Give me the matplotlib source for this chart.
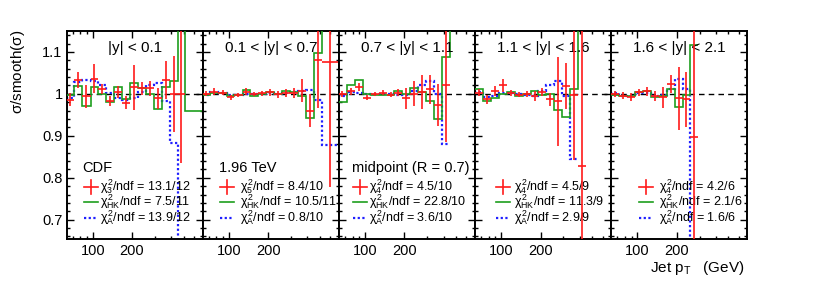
import numpy as np
import matplotlib
matplotlib.use('Agg')
import matplotlib.pyplot as plt
from matplotlib.ticker import FixedLocator, FuncFormatter, NullFormatter, MultipleLocator

plt.rcParams['font.family'] = ['Liberation Sans', 'DejaVu Sans']
plt.rcParams['mathtext.fontset'] = 'custom'
plt.rcParams['mathtext.rm'] = 'Liberation Sans'
plt.rcParams['mathtext.it'] = 'Liberation Sans'
plt.rcParams['mathtext.bf'] = 'Liberation Sans:bold'

# pT bin edges (GeV), same binning in every rapidity region
edges = np.array([62, 72, 83, 96, 110, 127, 146, 168, 193, 222, 255, 293, 338, 389, 447, 514, 700])

regions = ['|y| < 0.1', '0.1 < |y| < 0.7', '0.7 < |y| < 1.1', '1.1 < |y| < 1.6', '1.6 < |y| < 2.1']
extra_text = ['CDF', '1.96 TeV', 'midpoint (R = 0.7)', '', '']

# data / smooth(sigma), with errors
ratio_1 = [0.986, 1.033, 0.994, 1.036, 1.011, 0.983, 1.004, 0.979, 1.016, 1.013, 1.013, 0.989, 1.033, 1.000, 1.000]
err_1 = [0.015, 0.018, 0.028, 0.035, 0.012, 0.012, 0.015, 0.015, 0.054, 0.016, 0.018, 0.025, 0.045, 0.090, 0.165]
ratio_2 = [1.000, 1.005, 1.003, 0.992, 0.997, 1.005, 1.000, 1.002, 1.004, 0.999, 1.002, 1.003, 1.008, 0.960, 1.081, 1.077]
err_2 = [0.006, 0.008, 0.006, 0.006, 0.005, 0.008, 0.005, 0.006, 0.008, 0.008, 0.010, 0.012, 0.028, 0.040, 0.115, 0.300]
ratio_3 = [1.000, 1.006, 1.016, 0.991, 1.000, 1.003, 0.998, 1.003, 0.989, 1.000, 1.004, 1.011, 0.973, 1.021]
err_3 = [0.008, 0.008, 0.010, 0.006, 0.005, 0.006, 0.006, 0.008, 0.025, 0.030, 0.040, 0.035, 0.050, 0.135]
ratio_4 = [1.003, 0.987, 1.006, 1.020, 1.002, 0.998, 1.000, 0.994, 1.005, 0.987, 0.982, 1.019, 0.998, 0.829]
err_4 = [0.008, 0.010, 0.012, 0.015, 0.008, 0.006, 0.008, 0.012, 0.010, 0.015, 0.107, 0.055, 0.155, 0.400]
ratio_5 = [1.000, 0.996, 0.992, 1.004, 1.006, 0.994, 0.992, 1.024, 0.990, 0.987, 0.898]
err_5 = [0.008, 0.008, 0.010, 0.008, 0.010, 0.012, 0.025, 0.022, 0.075, 0.065, 0.400]

# HK fit / smooth
hk_1 = [0.998, 1.018, 0.970, 1.016, 1.000, 0.980, 1.016, 0.988, 1.026, 1.013, 1.000, 0.965, 1.016, 1.031, 1.600, 0.960]
hk_2 = [0.998, 1.003, 1.002, 0.996, 0.998, 1.010, 0.995, 1.000, 1.004, 1.000, 1.006, 1.004, 0.996, 0.942, 1.097, 1.600]
hk_3 = [0.980, 1.020, 1.033, 1.000, 0.998, 0.997, 0.997, 1.006, 1.000, 1.014, 1.004, 0.984, 0.940, 1.087, 1.600]
hk_4 = [1.012, 0.983, 0.990, 1.000, 1.004, 0.994, 1.000, 1.008, 0.998, 1.000, 0.962, 0.945, 1.012, 1.600]
hk_5 = [0.998, 0.994, 0.995, 1.004, 1.008, 0.992, 0.994, 1.012, 0.969, 0.998, 1.117]

# ansatz A / smooth
ans_1 = [0.990, 1.028, 1.033, 1.030, 1.020, 1.002, 0.990, 0.985, 0.990, 1.005, 1.020, 1.025, 0.982, 0.882, 0.500]
ans_2 = [0.998, 1.005, 1.003, 0.997, 0.998, 1.000, 1.000, 1.000, 1.002, 1.000, 1.003, 1.005, 1.006, 1.010, 0.985, 0.877]
ans_3 = [0.996, 1.005, 1.003, 1.000, 1.000, 1.000, 1.000, 0.998, 0.998, 1.008, 1.020, 1.030, 1.000, 0.880]
ans_4 = [1.004, 0.992, 0.995, 1.003, 1.002, 1.000, 0.998, 0.996, 1.006, 1.020, 1.030, 0.996, 0.845]
ans_5 = [1.003, 0.996, 0.996, 1.002, 1.003, 0.996, 0.997, 1.012, 1.036, 1.012, 0.500]

chi_sub = ['3', '5', '4', '4', '4']
chi2_fit = ['13.1/12', '8.4/10', '4.5/10', '4.5/9', '4.2/6']
chi2_hk = ['7.5/11', '10.5/11', '22.8/10', '11.3/9', '2.1/6']
chi2_a = ['13.9/12', '0.8/10', '3.6/10', '2.9/9', '1.6/6']

ratios = [ratio_1, ratio_2, ratio_3, ratio_4, ratio_5]
errs = [err_1, err_2, err_3, err_4, err_5]
hks = [hk_1, hk_2, hk_3, hk_4, hk_5]
anss = [ans_1, ans_2, ans_3, ans_4, ans_5]

red = '#ff1a1a'
green = '#1e9e1e'
blue = '#1f1fff'

fig = plt.figure(figsize=(8.3, 2.84), dpi=100)
axes = fig.subplots(1, 5, sharey=True)
fig.subplots_adjust(left=0.0804, right=0.9006, top=0.891, bottom=0.157, wspace=0)

panel_px = 136.2
leg_handle = [17, 17, 14, 21, 28]   # px from panel left
leg_text = [33, 37, 30, 39, 48]

for i, ax in enumerate(axes):
    n = len(ratios[i])
    lo = edges[:n]
    hi = edges[1:n + 1]
    c = np.sqrt(lo * hi)

    ax.axhline(1.0, color='black', lw=1.0, ls=(0, (4, 3)), zorder=1)
    ax.stairs(anss[i], edges[:len(anss[i]) + 1], baseline=None, color=blue,
              lw=1.6, ls=(0, (1, 1.1)), zorder=2)
    ax.stairs(hks[i], edges[:len(hks[i]) + 1], baseline=None, color=green, lw=1.2, zorder=3)
    ax.errorbar(c, ratios[i], yerr=errs[i], xerr=[c - lo, hi - c], fmt='none',
                ecolor=red, elinewidth=1.2, capsize=0, zorder=4)

    ax.set_xscale('log')
    ax.set_xlim(63, 700)
    ax.set_ylim(0.653, 1.15)
    ax.xaxis.set_major_locator(FixedLocator([100, 200]))
    ax.xaxis.set_major_formatter(FuncFormatter(lambda v, p: f'{v:g}'))
    ax.xaxis.set_minor_locator(FixedLocator([70, 80, 90, 300, 400, 500, 600]))
    ax.xaxis.set_minor_formatter(NullFormatter())
    ax.yaxis.set_major_locator(FixedLocator([0.7, 0.8, 0.9, 1.0, 1.1]))
    ax.yaxis.set_major_formatter(FuncFormatter(lambda v, p: f'{v:g}'))
    ax.yaxis.set_minor_locator(MultipleLocator(0.02))
    ax.tick_params(which='both', direction='in', top=True, right=True, labelsize=10.5, pad=3)
    ax.tick_params(which='major', length=5, width=1)
    ax.tick_params(which='minor', length=2.5, width=1)
    if i > 0:
        ax.tick_params(labelleft=False)
    for s in ax.spines.values():
        s.set_linewidth(1.4)

    ax.text(0.5, 0.918, regions[i], transform=ax.transAxes, ha='center', va='center', fontsize=11)
    if extra_text[i]:
        ax.text(leg_handle[i] / panel_px - 0.01, 0.343, extra_text[i], transform=ax.transAxes,
                ha='left', va='center', fontsize=10.5)

    # legend rows
    x0 = leg_handle[i] / panel_px
    x1 = (leg_handle[i] + 14) / panel_px
    xt = leg_text[i] / panel_px
    rows = [0.252, 0.180, 0.103]
    labels = [r'$\chi^2_{' + chi_sub[i] + r'}$/ndf = ' + chi2_fit[i],
              r'$\chi^2_{\rm HK}$/ndf = ' + chi2_hk[i],
              r'$\chi^2_{\rm A}$/ndf = ' + chi2_a[i]]
    ax.plot([x0, x1], [rows[0], rows[0]], color=red, lw=1.2, transform=ax.transAxes)
    ax.plot([(x0 + x1) / 2] * 2, [rows[0] - 0.035, rows[0] + 0.035], color=red, lw=1.2,
            transform=ax.transAxes)
    ax.plot([x0, x1], [rows[1], rows[1]], color=green, lw=1.2, transform=ax.transAxes)
    ax.plot([x0, x1], [rows[2], rows[2]], color=blue, lw=1.6, ls=(0, (1, 1.1)),
            transform=ax.transAxes)
    for r, lab in zip(rows, labels):
        ax.text(xt, r, lab, transform=ax.transAxes, ha='left', va='center', fontsize=9)

fig.text(0.022, 1 - 30 / 284, r'$\sigma$/smooth($\sigma$)', rotation=90, ha='center', va='top', fontsize=11)
fig.text(745 / 830, 1 - 268 / 284, r'Jet p$_{\rm T}$   (GeV)', ha='right', va='center', fontsize=11)

fig.savefig('out.png', dpi=100)
